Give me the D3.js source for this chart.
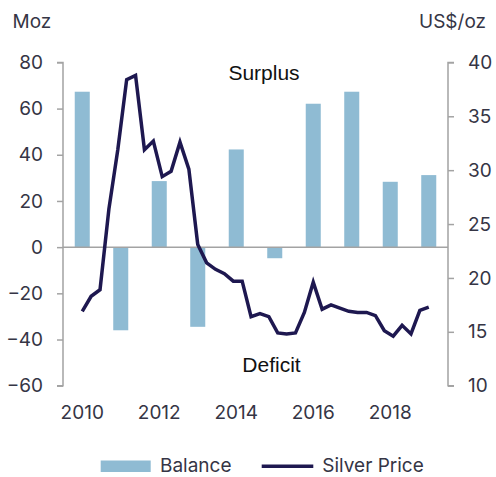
<!DOCTYPE html>
<html>
<head>
<meta charset="utf-8">
<script src="https://cdn.jsdelivr.net/npm/d3@7"></script>
<style>
  html, body { margin: 0; padding: 0; background: #fff; }
  svg { display: block; }
  text { font-family: Inter, "Noto Sans", sans-serif; }
</style>
</head>
<body>
<svg id="chart" width="496" height="477"></svg>
<script>
// ---- data ----
const years = ["2010","2011","2012","2013","2014","2015","2016","2017","2018","2019"];
const balance = [67.3, -36, 28.6, -34.5, 42.3, -4.8, 62.1, 67.3, 28.3, 31.2];
const quarters = [];
years.forEach(y => ["Q1","Q2","Q3","Q4"].forEach(q => quarters.push(y + q)));
const silverPrice = [
  16.9, 18.3, 18.9, 26.4,
  31.9, 38.4, 38.8, 31.9,
  32.7, 29.4, 29.9, 32.6,
  30.1, 23.1, 21.4, 20.8,
  20.4, 19.7, 19.7, 16.4,
  16.7, 16.4, 14.9, 14.8,
  14.9, 16.8, 19.6, 17.1,
  17.5, 17.2, 16.9, 16.8,
  16.8, 16.5, 15.1, 14.6,
  15.6, 14.8, 17.0, 17.3
];
const leftTicks = [-60, -40, -20, 0, 20, 40, 60, 80];
const rightTicks = [10, 15, 20, 25, 30, 35, 40];
const xTickLabels = ["2010","2012","2014","2016","2018"];

// ---- layout ----
const svg = d3.select("#chart");
const L = 63, R = 448, T = 62.4, B = 385.7;
const axisColor = "#a3a3a3";
const textColor = "#353545";
const barColor = "#8fbbd3";
const lineColor = "#1e1850";
const fs = "19px";

const x = d3.scaleBand().domain(years).range([L, R]).paddingInner(0.61).paddingOuter(0.305);
const yL = d3.scaleLinear().domain([-60, 80]).range([B, T]);
const yR = d3.scaleLinear().domain([10, 40]).range([B, T]);
const xq = d3.scalePoint().domain(quarters)
  .range([x("2010") + x.bandwidth() / 2, x("2019") + x.bandwidth() / 2]);

// bars
svg.append("g").selectAll("rect").data(years).join("rect")
  .attr("x", d => x(d))
  .attr("width", x.bandwidth())
  .attr("y", (d, i) => yL(Math.max(0, balance[i])))
  .attr("height", (d, i) => Math.abs(yL(balance[i]) - yL(0)))
  .attr("fill", barColor);

// zero line
svg.append("line")
  .attr("x1", L).attr("x2", R)
  .attr("y1", yL(0)).attr("y2", yL(0))
  .attr("stroke", axisColor).attr("stroke-width", 1.5);

// left axis
const gL = svg.append("g").attr("transform", `translate(${L},0)`)
  .call(d3.axisLeft(yL).tickValues(leftTicks).tickSize(6).tickPadding(14).tickFormat(d3.format("d")));
// right axis
const gR = svg.append("g").attr("transform", `translate(${R},0)`)
  .call(d3.axisRight(yR).tickValues(rightTicks).tickSize(6).tickPadding(14));
[gL, gR].forEach(g => {
  g.select(".domain").attr("stroke", axisColor).attr("stroke-width", 1.5);
  g.selectAll(".tick line").attr("stroke", axisColor).attr("stroke-width", 1.5);
  g.selectAll(".tick text").attr("fill", textColor).style("font-size", fs)
    .style("font-family", "Inter, sans-serif");
});
gL.select(".domain").attr("d", `M-6,${B}H0V${T}H-6`);
gR.select(".domain").attr("d", `M6,${B}H0V${T}H6`);

// x labels
svg.append("g").selectAll("text").data(xTickLabels).join("text")
  .attr("x", d => x(d) + x.bandwidth() / 2)
  .attr("y", 419)
  .attr("text-anchor", "middle")
  .attr("fill", textColor)
  .style("font-size", fs)
  .text(d => d);

// line
svg.append("path")
  .datum(silverPrice)
  .attr("fill", "none")
  .attr("stroke", lineColor)
  .attr("stroke-width", 3.5)
  .attr("stroke-linejoin", "miter")
  .attr("d", d3.line().x((d, i) => xq(quarters[i])).y(d => yR(d)));

// unit labels
svg.append("text").attr("x", 12.5).attr("y", 28).attr("fill", textColor)
  .style("font-size", fs).text("Moz");
svg.append("text").attr("x", 486).attr("y", 28).attr("text-anchor", "end").attr("fill", textColor)
  .style("font-size", fs).text("US$/oz");

// annotations
svg.append("text").attr("x", 264).attr("y", 79.5).attr("text-anchor", "middle")
  .attr("fill", "#111").style("font-family", "'Liberation Sans', Arial, sans-serif")
  .style("font-size", "21px").text("Surplus");
svg.append("text").attr("x", 271.5).attr("y", 371.5).attr("text-anchor", "middle")
  .attr("fill", "#111").style("font-family", "'Liberation Sans', Arial, sans-serif")
  .style("font-size", "21px").text("Deficit");

// legend
const lg = svg.append("g");
lg.append("rect").attr("x", 100.7).attr("y", 460.5).attr("width", 50).attr("height", 11.5).attr("fill", barColor);
lg.append("text").attr("x", 160).attr("y", 472).attr("fill", textColor).style("font-size", fs).text("Balance");
lg.append("line").attr("x1", 261.7).attr("x2", 313.3).attr("y1", 466.3).attr("y2", 466.3)
  .attr("stroke", lineColor).attr("stroke-width", 3.5);
lg.append("text").attr("x", 322.3).attr("y", 472).attr("fill", textColor).style("font-size", fs).text("Silver Price");
</script>
</body>
</html>
